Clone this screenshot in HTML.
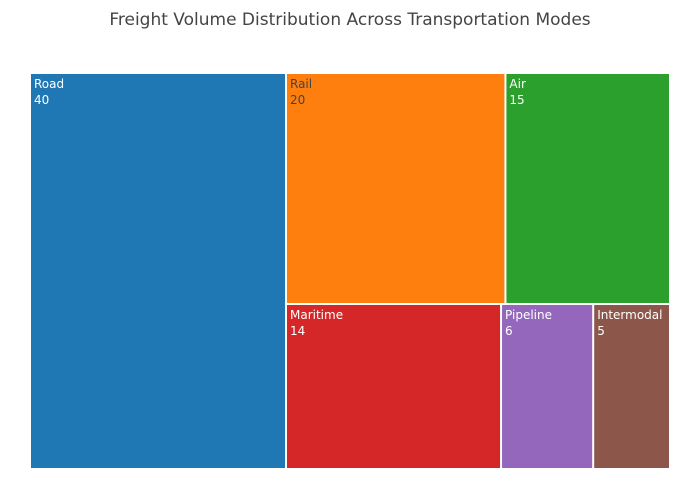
<!DOCTYPE html>
<html><head><meta charset="utf-8">
<style>
body{margin:0;background:#fff;}
svg{display:block;font-family:"DejaVu Sans","Liberation Sans",Arial,sans-serif;}
</style></head>
<body>
<svg id="chart" width="700" height="500">
<rect width="700" height="500" fill="#fff"/>
<text x="350" y="25" text-anchor="middle" font-size="17" fill="#444">Freight Volume Distribution Across Transportation Modes</text>
<g id="tiles"></g>
</svg>
<script>
const categories = ["Road","Rail","Air","Maritime","Pipeline","Intermodal"];
const values = [40,20,15,14,6,5];
const colors = ["#1f77b4","#ff7f0e","#2ca02c","#d62728","#9467bd","#8c564b"];
const textColors = ["#fff","#444","#fff","#fff","#fff","#fff"];

const X0=30,Y0=73,W=640,H=396;
const total = values.reduce((a,b)=>a+b,0);
const scale = W*H/total;
const items = values.map((v,i)=>({i, a:v*scale}));
const rects = [];
function worst(row, side){
  const s=row.reduce((a,b)=>a+b.a,0);
  let w=0;
  row.forEach(r=>{const t=s/side, l=r.a/t; w=Math.max(w, Math.max(t/l,l/t));});
  return w;
}
function layoutRow(row, box){
  const s=row.reduce((a,b)=>a+b.a,0);
  if(box.w>=box.h){
    const t=s/box.h; let y=box.y;
    row.forEach(r=>{const h=r.a/t; rects.push({i:r.i,x:box.x,y,w:t,h}); y+=h;});
    return {x:box.x+t,y:box.y,w:box.w-t,h:box.h};
  } else {
    const t=s/box.w; let x=box.x;
    row.forEach(r=>{const w=r.a/t; rects.push({i:r.i,x,y:box.y,w,h:t}); x+=w;});
    return {x:box.x,y:box.y+t,w:box.w,h:box.h-t};
  }
}
let box={x:X0,y:Y0,w:W,h:H}, row=[], k=0;
while(k<items.length){
  const side=Math.min(box.w,box.h);
  const cand=row.concat([items[k]]);
  if(row.length===0 || worst(cand,side)<=worst(row,side)){row=cand;k++;}
  else {box=layoutRow(row,box);row=[];}
}
if(row.length) layoutRow(row,box);

const g=document.getElementById('tiles');
const NS="http://www.w3.org/2000/svg";
rects.forEach(r=>{
  const tile=document.createElementNS(NS,'g');
  
  
  const rc=document.createElementNS(NS,'rect');
  rc.setAttribute('x',r.x+1);rc.setAttribute('y',r.y+1);
  rc.setAttribute('width',Math.max(0,r.w-2));rc.setAttribute('height',Math.max(0,r.h-2));
  rc.setAttribute('fill',colors[r.i]);
  
  
  tile.appendChild(rc);
  [categories[r.i], String(values[r.i])].forEach((s,j)=>{
    const t=document.createElementNS(NS,'text');
    t.setAttribute('x',r.x+4);t.setAttribute('y',r.y+15+j*16);
    t.setAttribute('font-size','12');t.setAttribute('fill',textColors[r.i]);
    t.textContent=s;
    
    
    tile.appendChild(t);
  });
  g.appendChild(tile);
});
</script>
</body></html>
